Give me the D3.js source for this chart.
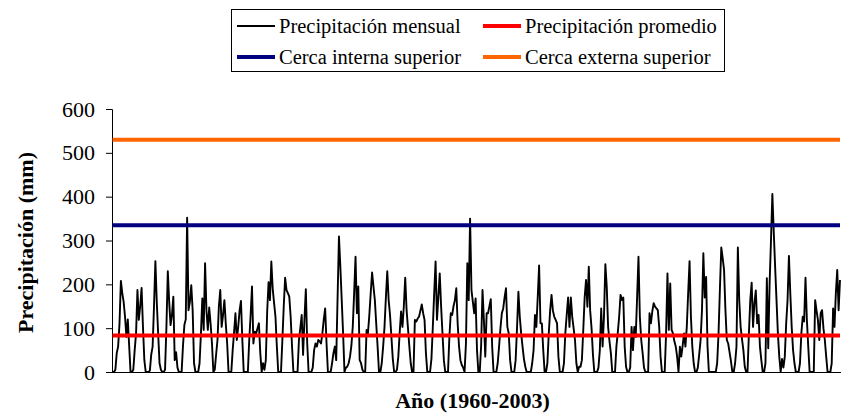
<!DOCTYPE html>
<html>
<head>
<meta charset="utf-8">
<script src="https://cdn.jsdelivr.net/npm/d3@7/dist/d3.min.js"></script>
<style>
  html, body { margin: 0; padding: 0; background: #fff; }
  svg { display: block; }
  text { font-family: "Liberation Serif", "Times New Roman", serif; fill: #000; }
</style>
</head>
<body>
<svg id="chart" width="841" height="413" font-family="Liberation Serif, Times New Roman, serif"></svg>
<script>
// Monthly precipitation (mm), 1960-2003, one row per year (Jan..Dec)
const precipitacionMensual = [
  0, 0, 5, 43, 58, 110, 208, 180, 160, 126, 80, 120,
  60, 0, 0, 5, 50, 88, 187, 119, 150, 192, 103, 27,
  0, 0, 0, 3, 40, 58, 150, 253, 160, 88, 20, 5,
  0, 0, 5, 103, 230, 160, 107, 130, 172, 27, 45, 10,
  0, 0, 0, 60, 107, 120, 352, 141, 160, 198, 141, 20,
  0, 0, 0, 20, 88, 168, 96, 248, 140, 96, 147, 110,
  65, 0, 5, 40, 73, 150, 187, 103, 130, 164, 110, 65,
  0, 0, 0, 50, 90, 134, 73, 103, 140, 162, 73, 0,
  0, 0, 0, 73, 130, 195, 65, 92, 88, 100, 111, 43,
  0, 20, 5, 27, 138, 205, 164, 252, 190, 157, 126, 58,
  0, 0, 0, 73, 150, 215, 187, 180, 172, 126, 58, 0,
  0, 0, 0, 73, 100, 130, 39, 120, 189, 65, 0, 0,
  0, 10, 50, 65, 58, 73, 70, 65, 88, 120, 145, 65,
  0, 0, 0, 20, 43, 58, 27, 170, 309, 240, 164, 88,
  0, 10, 12, 20, 35, 60, 103, 180, 263, 134, 195, 27,
  20, 5, 0, 0, 96, 88, 130, 180, 227, 195, 164, 110,
  58, 0, 0, 20, 58, 103, 170, 230, 164, 130, 80, 30,
  0, 0, 5, 35, 90, 138, 103, 150, 215, 141, 100, 58,
  20, 0, 0, 119, 115, 122, 126, 140, 154, 134, 119, 43,
  0, 0, 0, 30, 103, 180, 252, 119, 170, 225, 150, 88,
  27, 0, 0, 0, 80, 134, 130, 150, 164, 191, 110, 58,
  27, 16, 10, 0, 65, 248, 164, 350, 187, 160, 134, 168,
  50, 0, 0, 60, 187, 119, 35, 134, 134, 150, 166, 58,
  0, 0, 0, 20, 58, 100, 134, 145, 170, 191, 103, 88,
  27, 0, 0, 0, 27, 100, 183, 126, 88, 58, 30, 12,
  0, 0, 0, 0, 20, 50, 130, 103, 170, 243, 111, 111,
  50, 0, 0, 20, 88, 140, 176, 140, 126, 119, 111, 35,
  0, 0, 0, 20, 88, 130, 170, 103, 170, 126, 100, 73,
  20, 0, 12, 12, 27, 96, 170, 210, 149, 240, 140, 100,
  40, 0, 0, 0, 10, 50, 145, 58, 126, 246, 195, 103,
  70, 43, 0, 0, 0, 58, 90, 126, 176, 164, 170, 58,
  12, 0, 0, 10, 103, 50, 103, 80, 170, 263, 126, 73,
  43, 10, 0, 0, 0, 134, 111, 138, 157, 149, 145, 141,
  103, 35, 0, 0, 0, 88, 225, 96, 202, 96, 88, 70,
  58, 35, 0, 58, 35, 60, 88, 58, 103, 180, 253, 126,
  58, 20, 0, 0, 10, 40, 73, 141, 271, 170, 217, 60,
  0, 0, 0, 0, 0, 0, 20, 88, 190, 284, 260, 233,
  141, 73, 65, 45, 25, 0, 0, 20, 58, 284, 164, 103,
  75, 50, 12, 0, 0, 88, 164, 204, 103, 157, 186, 111,
  130, 58, 27, 0, 0, 20, 214, 54, 202, 300, 406, 320,
  240, 164, 88, 35, 0, 30, 10, 35, 110, 164, 265, 179,
  103, 50, 20, 0, 0, 0, 20, 88, 126, 115, 215, 119,
  58, 0, 0, 0, 0, 164, 140, 119, 73, 134, 141, 100,
  73, 35, 0, 0, 0, 20, 145, 103, 180, 233, 141, 210
];
const precipitacionPromedio = 83;   // mm
const cercaInternaSuperior = 335;   // mm
const cercaExternaSuperior = 530;   // mm
const yTicks = [0, 100, 200, 300, 400, 500, 600];

const legendItems = [
  { label: "Precipitación mensual", color: "#000000", width: 2 },
  { label: "Precipitación promedio", color: "#FF0000", width: 4 },
  { label: "Cerca interna superior", color: "#000080", width: 4 },
  { label: "Cerca externa superior", color: "#FF6600", width: 4 }
];

const FONT = '"Liberation Serif", "Times New Roman", serif';
const svg = d3.select("#chart");
const plot = { left: 112, right: 841, top: 109, bottom: 372 };

const n = precipitacionMensual.length;
const x = d3.scaleLinear().domain([0, n - 1]).range([plot.left + 0.6, plot.right - 1]);
const y = d3.scaleLinear().domain([0, 600]).range([plot.bottom, plot.top]);

// y axis
const yAxis = d3.axisLeft(y).tickValues(yTicks).tickSize(6).tickPadding(11).tickFormat(d3.format("d"));
const gy = svg.append("g").attr("transform", `translate(${plot.left},0)`).call(yAxis);
gy.attr("font-family", FONT).attr("font-size", 22);
gy.select(".domain").attr("stroke", "#000").attr("stroke-width", 1);
gy.selectAll(".tick line").attr("stroke", "#000");
gy.selectAll(".tick text")
  .style("font-family", FONT)
  .style("font-size", "22px").attr("fill", "#000");

// x axis (baseline only)
svg.append("line")
  .attr("x1", plot.left).attr("x2", plot.right)
  .attr("y1", y(0) + 0.5).attr("y2", y(0) + 0.5)
  .attr("stroke", "#000").attr("stroke-width", 1);

// monthly series
const line = d3.line().x((d, i) => x(i)).y(d => y(d));
svg.append("path")
  .datum(precipitacionMensual)
  .attr("fill", "none")
  .attr("stroke", "#000")
  .attr("stroke-width", 1.9)
  .attr("stroke-linejoin", "round")
  .attr("d", line);

// horizontal reference series
const refLine = d3.line().x(d => x(d[0])).y(d => y(d[1]));
const refs = [
  { v: cercaExternaSuperior, color: "#FF6600" },
  { v: cercaInternaSuperior, color: "#000080" },
  { v: precipitacionPromedio, color: "#FF0000" }
];
refs.forEach(r => {
  svg.append("path")
    .datum([[0, r.v], [n - 1, r.v]])
    .attr("fill", "none")
    .attr("stroke", r.color)
    .attr("stroke-width", 4)
    .attr("d", refLine);
});

// axis titles
svg.append("text")
  .attr("transform", `translate(33,${(plot.top + plot.bottom) / 2 + 2}) rotate(-90)`)
  .attr("text-anchor", "middle")
  .style("font-family", FONT)
  .style("font-size", "22px").style("font-weight", "bold")
  .text("Precipitación (mm)");

svg.append("text")
  .attr("x", (plot.left + plot.right) / 2 - 4)
  .attr("y", 408)
  .attr("text-anchor", "middle")
  .style("font-family", FONT)
  .style("font-size", "22px").style("font-weight", "bold")
  .text("Año (1960-2003)");

// legend
const lg = svg.append("g");
lg.append("rect")
  .attr("x", 231.5).attr("y", 9.5).attr("width", 493).attr("height", 62)
  .attr("fill", "#fff").attr("stroke", "#000").attr("stroke-width", 1);
const colX = [237, 483];
const rowY = [26, 57];
legendItems.forEach((it, i) => {
  const cx = colX[i % 2], cy = rowY[Math.floor(i / 2)];
  lg.append("line")
    .attr("x1", cx).attr("x2", cx + 38).attr("y1", cy).attr("y2", cy)
    .attr("stroke", it.color).attr("stroke-width", it.width);
  lg.append("text")
    .attr("x", cx + 42).attr("y", cy + 7)
    .style("font-family", FONT)
    .style("font-size", "20.5px")
    .text(it.label);
});
</script>
</body>
</html>
